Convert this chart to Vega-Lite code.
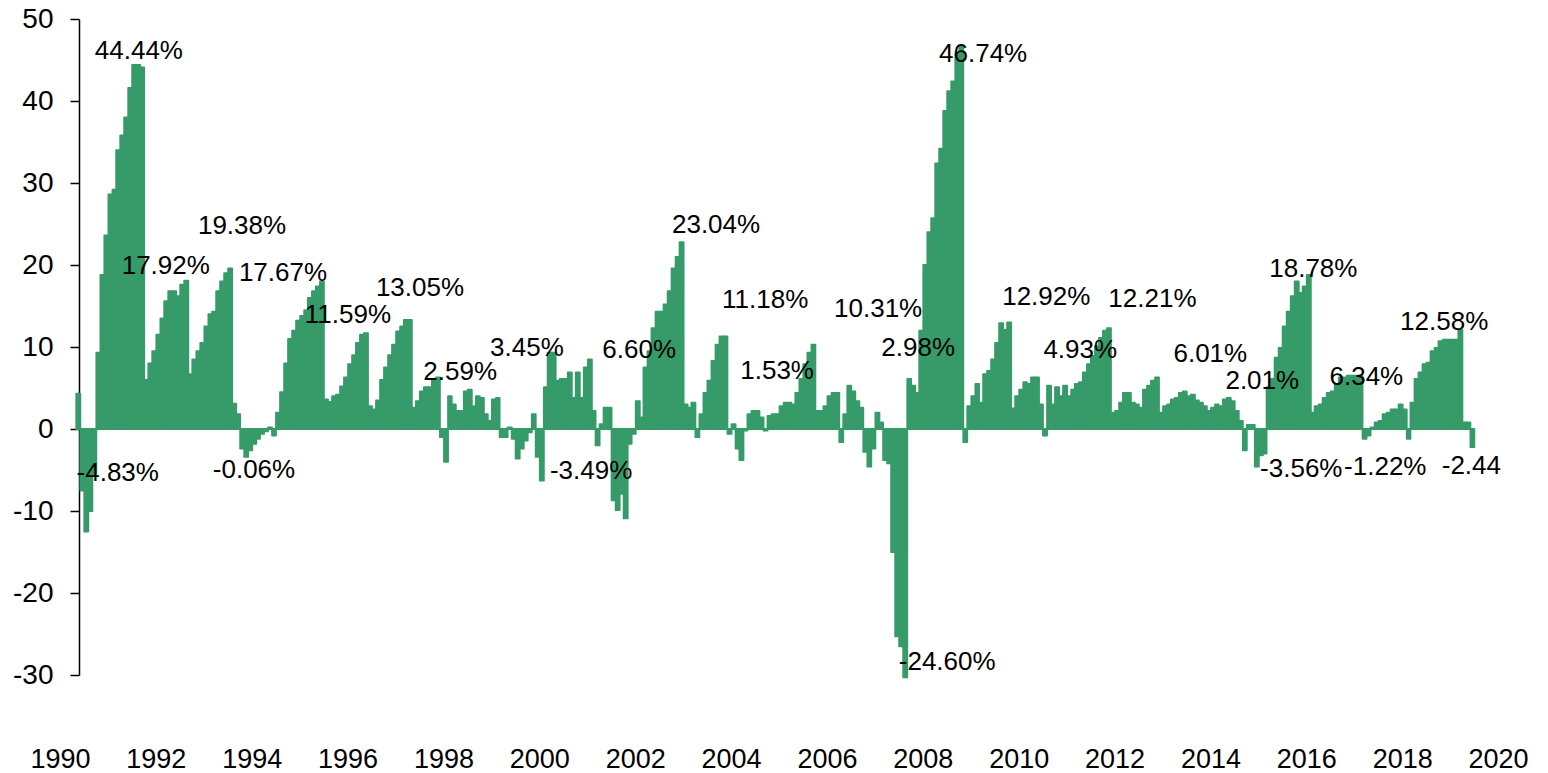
{
  "$schema": "https://vega.github.io/schema/vega-lite/v6.json",
  "width": 1438,
  "height": 656,
  "autosize": {"type": "none"},
  "padding": {"left": 60, "top": 19, "right": 50, "bottom": 98},
  "background": "white",
  "config": {"view": {"stroke": null}, "axis": {"grid": false}, "font": "Liberation Sans"},
  "datasets": {
    "bars": [
      {"d":"1990-05","v":4.3},{"d":"1990-06","v":-7.5},{"d":"1990-07","v":-12.5},{"d":"1990-08","v":-10.0},{"d":"1990-09","v":-5.5},{"d":"1990-10","v":9.3},{"d":"1990-11","v":18.8},{"d":"1990-12","v":23.6},
      {"d":"1991-01","v":28.6},{"d":"1991-02","v":29.2},{"d":"1991-03","v":34.0},{"d":"1991-04","v":35.8},{"d":"1991-05","v":38.0},{"d":"1991-06","v":41.6},{"d":"1991-07","v":44.4},{"d":"1991-08","v":44.4},{"d":"1991-09","v":44.1},{"d":"1991-10","v":6.0},{"d":"1991-11","v":8.0},{"d":"1991-12","v":9.5},
      {"d":"1992-01","v":11.5},{"d":"1992-02","v":13.5},{"d":"1992-03","v":15.6},{"d":"1992-04","v":16.8},{"d":"1992-05","v":16.8},{"d":"1992-06","v":16.2},{"d":"1992-07","v":17.6},{"d":"1992-08","v":18.1},{"d":"1992-09","v":6.7},{"d":"1992-10","v":8.5},{"d":"1992-11","v":9.5},{"d":"1992-12","v":10.5},
      {"d":"1993-01","v":12.5},{"d":"1993-02","v":14.0},{"d":"1993-03","v":14.3},{"d":"1993-04","v":16.8},{"d":"1993-05","v":18.0},{"d":"1993-06","v":19.0},{"d":"1993-07","v":19.6},{"d":"1993-08","v":3.1},{"d":"1993-09","v":1.8},{"d":"1993-10","v":-2.4},{"d":"1993-11","v":-3.4},{"d":"1993-12","v":-2.6},
      {"d":"1994-01","v":-1.8},{"d":"1994-02","v":-1.2},{"d":"1994-03","v":-0.6},{"d":"1994-04","v":-0.3},{"d":"1994-05","v":0.2},{"d":"1994-06","v":-0.8},{"d":"1994-07","v":2.0},{"d":"1994-08","v":4.5},{"d":"1994-09","v":8.0},{"d":"1994-10","v":11.0},{"d":"1994-11","v":12.0},{"d":"1994-12","v":13.2},
      {"d":"1995-01","v":13.8},{"d":"1995-02","v":14.5},{"d":"1995-03","v":16.0},{"d":"1995-04","v":16.8},{"d":"1995-05","v":17.4},{"d":"1995-06","v":18.0},{"d":"1995-07","v":3.6},{"d":"1995-08","v":3.3},{"d":"1995-09","v":4.0},{"d":"1995-10","v":4.2},{"d":"1995-11","v":5.2},{"d":"1995-12","v":6.3},
      {"d":"1996-01","v":7.9},{"d":"1996-02","v":9.0},{"d":"1996-03","v":10.5},{"d":"1996-04","v":11.5},{"d":"1996-05","v":11.7},{"d":"1996-06","v":2.8},{"d":"1996-07","v":2.4},{"d":"1996-08","v":3.5},{"d":"1996-09","v":6.0},{"d":"1996-10","v":7.5},{"d":"1996-11","v":9.0},{"d":"1996-12","v":10.3},
      {"d":"1997-01","v":11.9},{"d":"1997-02","v":12.5},{"d":"1997-03","v":13.3},{"d":"1997-04","v":13.3},{"d":"1997-05","v":2.6},{"d":"1997-06","v":3.4},{"d":"1997-07","v":4.6},{"d":"1997-08","v":5.1},{"d":"1997-09","v":5.1},{"d":"1997-10","v":6.0},{"d":"1997-11","v":6.3},{"d":"1997-12","v":-1.0},
      {"d":"1998-01","v":-4.0},{"d":"1998-02","v":4.0},{"d":"1998-03","v":3.0},{"d":"1998-04","v":2.2},{"d":"1998-05","v":2.2},{"d":"1998-06","v":4.6},{"d":"1998-07","v":4.8},{"d":"1998-08","v":2.8},{"d":"1998-09","v":4.0},{"d":"1998-10","v":3.8},{"d":"1998-11","v":1.8},{"d":"1998-12","v":1.0},
      {"d":"1999-01","v":3.6},{"d":"1999-02","v":3.8},{"d":"1999-03","v":-1.0},{"d":"1999-04","v":-1.0},{"d":"1999-05","v":0.2},{"d":"1999-06","v":-1.2},{"d":"1999-07","v":-3.6},{"d":"1999-08","v":-2.4},{"d":"1999-09","v":-1.4},{"d":"1999-10","v":-0.4},{"d":"1999-11","v":1.8},{"d":"1999-12","v":-3.4},
      {"d":"2000-01","v":-6.3},{"d":"2000-02","v":5.1},{"d":"2000-03","v":9.3},{"d":"2000-04","v":9.3},{"d":"2000-05","v":5.9},{"d":"2000-06","v":6.1},{"d":"2000-07","v":6.1},{"d":"2000-08","v":6.9},{"d":"2000-09","v":3.8},{"d":"2000-10","v":6.9},{"d":"2000-11","v":3.8},{"d":"2000-12","v":7.5},
      {"d":"2001-01","v":8.5},{"d":"2001-02","v":2.2},{"d":"2001-03","v":-2.0},{"d":"2001-04","v":0.6},{"d":"2001-05","v":2.6},{"d":"2001-06","v":2.6},{"d":"2001-07","v":-8.7},{"d":"2001-08","v":-9.9},{"d":"2001-09","v":-7.9},{"d":"2001-10","v":-10.9},{"d":"2001-11","v":-1.8},{"d":"2001-12","v":-0.6},
      {"d":"2002-01","v":3.4},{"d":"2002-02","v":1.4},{"d":"2002-03","v":7.5},{"d":"2002-04","v":9.5},{"d":"2002-05","v":12.3},{"d":"2002-06","v":14.3},{"d":"2002-07","v":14.3},{"d":"2002-08","v":15.2},{"d":"2002-09","v":16.8},{"d":"2002-10","v":19.6},{"d":"2002-11","v":21.0},{"d":"2002-12","v":22.8},
      {"d":"2003-01","v":3.0},{"d":"2003-02","v":2.6},{"d":"2003-03","v":3.2},{"d":"2003-04","v":-1.0},{"d":"2003-05","v":1.8},{"d":"2003-06","v":4.4},{"d":"2003-07","v":5.9},{"d":"2003-08","v":8.3},{"d":"2003-09","v":10.3},{"d":"2003-10","v":11.3},{"d":"2003-11","v":11.3},{"d":"2003-12","v":-0.6},
      {"d":"2004-01","v":0.6},{"d":"2004-02","v":-2.4},{"d":"2004-03","v":-3.8},{"d":"2004-04","v":-0.2},{"d":"2004-05","v":1.8},{"d":"2004-06","v":2.2},{"d":"2004-07","v":2.2},{"d":"2004-08","v":1.4},{"d":"2004-09","v":-0.2},{"d":"2004-10","v":1.6},{"d":"2004-11","v":1.8},{"d":"2004-12","v":1.8},
      {"d":"2005-01","v":2.8},{"d":"2005-02","v":3.2},{"d":"2005-03","v":3.2},{"d":"2005-04","v":3.0},{"d":"2005-05","v":4.4},{"d":"2005-06","v":6.1},{"d":"2005-07","v":7.9},{"d":"2005-08","v":9.3},{"d":"2005-09","v":10.3},{"d":"2005-10","v":2.2},{"d":"2005-11","v":2.2},{"d":"2005-12","v":2.8},
      {"d":"2006-01","v":4.0},{"d":"2006-02","v":4.4},{"d":"2006-03","v":4.4},{"d":"2006-04","v":-1.6},{"d":"2006-05","v":1.8},{"d":"2006-06","v":5.3},{"d":"2006-07","v":4.6},{"d":"2006-08","v":3.4},{"d":"2006-09","v":2.6},{"d":"2006-10","v":-2.8},{"d":"2006-11","v":-4.6},{"d":"2006-12","v":-2.4},
      {"d":"2007-01","v":2.0},{"d":"2007-02","v":0.8},{"d":"2007-03","v":-3.8},{"d":"2007-04","v":-4.2},{"d":"2007-05","v":-15.0},{"d":"2007-06","v":-25.3},{"d":"2007-07","v":-26.5},{"d":"2007-08","v":-30.3},{"d":"2007-09","v":6.1},{"d":"2007-10","v":5.3},{"d":"2007-11","v":4.4},{"d":"2007-12","v":12.0},
      {"d":"2008-01","v":20.0},{"d":"2008-02","v":24.0},{"d":"2008-03","v":25.7},{"d":"2008-04","v":32.4},{"d":"2008-05","v":34.2},{"d":"2008-06","v":38.8},{"d":"2008-07","v":41.2},{"d":"2008-08","v":42.4},{"d":"2008-09","v":45.7},{"d":"2008-10","v":46.7},{"d":"2008-11","v":-1.6},{"d":"2008-12","v":2.8},
      {"d":"2009-01","v":4.0},{"d":"2009-02","v":5.5},{"d":"2009-03","v":3.2},{"d":"2009-04","v":6.7},{"d":"2009-05","v":7.1},{"d":"2009-06","v":8.5},{"d":"2009-07","v":10.5},{"d":"2009-08","v":12.9},{"d":"2009-09","v":12.1},{"d":"2009-10","v":13.0},{"d":"2009-11","v":2.5},{"d":"2009-12","v":4.0},
      {"d":"2010-01","v":4.8},{"d":"2010-02","v":5.7},{"d":"2010-03","v":5.5},{"d":"2010-04","v":6.3},{"d":"2010-05","v":6.3},{"d":"2010-06","v":3.0},{"d":"2010-07","v":-0.8},{"d":"2010-08","v":5.3},{"d":"2010-09","v":3.0},{"d":"2010-10","v":5.1},{"d":"2010-11","v":4.0},{"d":"2010-12","v":5.3},
      {"d":"2011-01","v":4.0},{"d":"2011-02","v":4.8},{"d":"2011-03","v":5.5},{"d":"2011-04","v":5.7},{"d":"2011-05","v":6.9},{"d":"2011-06","v":7.9},{"d":"2011-07","v":8.9},{"d":"2011-08","v":10.1},{"d":"2011-09","v":11.1},{"d":"2011-10","v":12.0},{"d":"2011-11","v":12.3},{"d":"2011-12","v":2.0},
      {"d":"2012-01","v":2.2},{"d":"2012-02","v":3.2},{"d":"2012-03","v":4.4},{"d":"2012-04","v":4.4},{"d":"2012-05","v":3.2},{"d":"2012-06","v":3.0},{"d":"2012-07","v":2.6},{"d":"2012-08","v":4.8},{"d":"2012-09","v":5.3},{"d":"2012-10","v":5.9},{"d":"2012-11","v":6.3},{"d":"2012-12","v":2.0},
      {"d":"2013-01","v":2.8},{"d":"2013-02","v":3.0},{"d":"2013-03","v":3.6},{"d":"2013-04","v":3.8},{"d":"2013-05","v":4.4},{"d":"2013-06","v":4.6},{"d":"2013-07","v":4.0},{"d":"2013-08","v":4.2},{"d":"2013-09","v":3.5},{"d":"2013-10","v":3.2},{"d":"2013-11","v":2.8},{"d":"2013-12","v":2.2},
      {"d":"2014-01","v":2.6},{"d":"2014-02","v":3.0},{"d":"2014-03","v":2.8},{"d":"2014-04","v":3.6},{"d":"2014-05","v":3.8},{"d":"2014-06","v":3.4},{"d":"2014-07","v":2.2},{"d":"2014-08","v":1.0},{"d":"2014-09","v":-2.6},{"d":"2014-10","v":0.5},{"d":"2014-11","v":0.5},{"d":"2014-12","v":-4.6},
      {"d":"2015-01","v":-3.2},{"d":"2015-02","v":-3.0},{"d":"2015-03","v":5.1},{"d":"2015-04","v":6.1},{"d":"2015-05","v":8.7},{"d":"2015-06","v":9.9},{"d":"2015-07","v":12.5},{"d":"2015-08","v":14.3},{"d":"2015-09","v":16.2},{"d":"2015-10","v":18.0},{"d":"2015-11","v":16.6},{"d":"2015-12","v":17.4},
      {"d":"2016-01","v":18.8},{"d":"2016-02","v":2.0},{"d":"2016-03","v":2.8},{"d":"2016-04","v":3.0},{"d":"2016-05","v":3.8},{"d":"2016-06","v":4.4},{"d":"2016-07","v":4.6},{"d":"2016-08","v":5.5},{"d":"2016-09","v":6.3},{"d":"2016-10","v":6.3},{"d":"2016-11","v":6.5},{"d":"2016-12","v":6.5},
      {"d":"2017-01","v":6.5},{"d":"2017-02","v":6.5},{"d":"2017-03","v":-1.2},{"d":"2017-04","v":-0.8},{"d":"2017-05","v":0.2},{"d":"2017-06","v":0.8},{"d":"2017-07","v":1.0},{"d":"2017-08","v":1.8},{"d":"2017-09","v":2.0},{"d":"2017-10","v":2.4},{"d":"2017-11","v":2.4},{"d":"2017-12","v":3.0},
      {"d":"2018-01","v":2.4},{"d":"2018-02","v":-1.2},{"d":"2018-03","v":3.2},{"d":"2018-04","v":6.1},{"d":"2018-05","v":6.9},{"d":"2018-06","v":7.9},{"d":"2018-07","v":8.1},{"d":"2018-08","v":9.5},{"d":"2018-09","v":9.9},{"d":"2018-10","v":10.7},{"d":"2018-11","v":10.9},{"d":"2018-12","v":10.9},
      {"d":"2019-01","v":10.9},{"d":"2019-02","v":10.9},{"d":"2019-03","v":12.1},{"d":"2019-04","v":0.8},{"d":"2019-05","v":0.8},{"d":"2019-06","v":-2.2}
    ],
    "labels": [
      {"d":"1991-08-25","v":46.1,"t":"44.44%"},
      {"d":"1992-03-17","v":19.88,"t":"17.92%"},
      {"d":"1993-10-19","v":24.76,"t":"19.38%"},
      {"d":"1994-08-27","v":19.02,"t":"17.67%"},
      {"d":"1996-01-04","v":13.9,"t":"11.59%"},
      {"d":"1997-07-06","v":17.2,"t":"13.05%"},
      {"d":"1991-03-17","v":-5.37,"t":"-4.83%"},
      {"d":"1994-01-18","v":-5.0,"t":"-0.06%"},
      {"d":"1998-05-08","v":6.95,"t":"2.59%"},
      {"d":"1999-09-29","v":9.88,"t":"3.45%"},
      {"d":"2002-01-31","v":9.63,"t":"6.60%"},
      {"d":"2001-01-30","v":-5.12,"t":"-3.49%"},
      {"d":"2003-09-09","v":24.88,"t":"23.04%"},
      {"d":"2004-09-17","v":15.73,"t":"11.18%"},
      {"d":"2004-12-17","v":7.07,"t":"1.53%"},
      {"d":"2007-01-26","v":14.63,"t":"10.31%"},
      {"d":"2007-11-27","v":9.88,"t":"2.98%"},
      {"d":"2009-04-05","v":45.73,"t":"46.74%"},
      {"d":"2008-07-05","v":-28.41,"t":"-24.60%"},
      {"d":"2010-07-30","v":16.1,"t":"12.92%"},
      {"d":"2011-04-15","v":9.63,"t":"4.93%"},
      {"d":"2012-10-16","v":15.85,"t":"12.21%"},
      {"d":"2013-12-31","v":9.15,"t":"6.01%"},
      {"d":"2015-01-31","v":5.85,"t":"2.01%"},
      {"d":"2016-02-24","v":19.51,"t":"18.78%"},
      {"d":"2015-11-24","v":-4.88,"t":"-3.56%"},
      {"d":"2017-08-25","v":-4.63,"t":"-1.22%"},
      {"d":"2017-04-03","v":6.34,"t":"6.34%"},
      {"d":"2018-11-17","v":13.05,"t":"12.58%"},
      {"d":"2019-06-12","v":-4.51,"t":"-2.44"}
    ]
  },
  "layer": [
    {
      "data": {"name": "bars"},
      "mark": {"type": "bar", "color": "#369b69", "stroke": "#369b69", "strokeWidth": 1.8, "strokeJoin": "round", "binSpacing": 0},
      "encoding": {
        "x": {
          "field": "d", "timeUnit": "yearmonth", "type": "temporal",
          "scale": {"domain": [{"year": 1990, "month": 1, "date": 1}, {"year": 2020, "month": 1, "date": 1}]},
          "axis": {
            "title": null,
            "values": [{"year":1990},{"year":1992},{"year":1994},{"year":1996},{"year":1998},{"year":2000},{"year":2002},{"year":2004},{"year":2006},{"year":2008},{"year":2010},{"year":2012},{"year":2014},{"year":2016},{"year":2018},{"year":2020}],
            "format": "%Y", "formatType": "time",
            "domain": false, "ticks": false,
            "labelPadding": 84, "labelBaseline": "middle",
            "labelFontSize": 27, "labelColor": "#000", "labelFont": "Liberation Sans",
            "labelFlush": false, "labelOverlap": false,
            "encode": {"labels": {"update": {"dx": {"signal": "datum.index === 0 ? 8 : 0"}}}}
          }
        },
        "y": {
          "field": "v", "type": "quantitative",
          "scale": {"domain": [-30, 50], "nice": false},
          "axis": {
            "title": null,
            "values": [-30, -20, -10, 0, 10, 20, 30, 40, 50],
            "labelExpr": "'' + datum.value",
            "offset": -19,
            "domainColor": "#000", "domainWidth": 1.5,
            "tickColor": "#000", "tickWidth": 1.5, "tickSize": 9,
            "labelPadding": 17, "labelFontSize": 28, "labelColor": "#000", "labelFont": "Liberation Sans"
          }
        }
      }
    },
    {
      "data": {"name": "labels"},
      "mark": {"type": "text", "fontSize": 26, "color": "#000", "align": "center", "baseline": "middle", "font": "Liberation Sans"},
      "encoding": {
        "x": {"field": "d", "type": "temporal"},
        "y": {"field": "v", "type": "quantitative"},
        "text": {"field": "t"}
      }
    }
  ]
}
